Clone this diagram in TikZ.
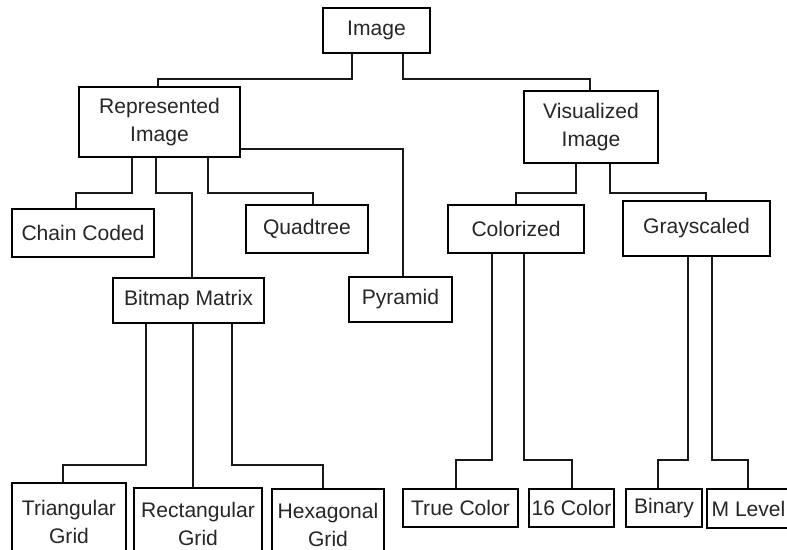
\documentclass[tikz,border=0pt]{standalone}
\usepackage{fontspec}
\setmainfont{Liberation Sans}
\begin{document}
\begin{tikzpicture}[x=0.75pt,y=-0.75pt,
  box/.style={draw=black,line width=1.2pt,fill=white,inner sep=0pt,align=center,
    font=\fontsize{15.8}{21}\selectfont,text=black!85},
  sz/.style 2 args={minimum width=#1*0.75pt,minimum height=#2*0.75pt},
  conn/.style={draw=black!90,line width=1.2pt}]
\clip (0,0) rectangle (787,549);
\fill[white] (0,0) rectangle (787,549);

\node[box,sz={107}{45}] (img) at (376.5,30.5) {Image};
\node[box,sz={161}{70}] (rep) at (159.5,122) {Represented\\Image};
\node[box,sz={134}{72}] (vis) at (591,127) {Visualized\\Image};
\node[box,sz={142}{48}] (chain) at (83,233) {Chain Coded};
\node[box,sz={122}{48}] (quad) at (307,229) {Quadtree};
\node[box,sz={151}{45}] (bit) at (188.5,300.5) {Bitmap Matrix};
\node[box,sz={103}{45}] (pyr) at (400.5,299.5) {Pyramid};
\node[box,sz={136}{48}] (col) at (516,229) {Colorized};
\node[box,sz={147}{55}] (gray) at (696.5,228.5) {Grayscaled};
\node[box,sz={114}{77}] (tri) at (69,521.5) {Triangular\\Grid};
\node[box,sz={128}{72}] (rect) at (198,524) {Rectangular\\Grid};
\node[box,sz={112}{71}] (hex) at (328,524.5) {Hexagonal\\Grid};
\node[box,sz={115}{38}] (tc) at (460.5,508) {True Color};
\node[box,sz={85}{38}] (c16) at (571.5,508) {16 Color};
\node[box,sz={76}{38}] (bin) at (664,508) {Binary};
\node[box,sz={83}{39}] (mlev) at (748.5,508.5) {M Level};

\draw[conn] (img.south -| 352,0) |- (158,79) -- (rep.north -| 158,0);
\draw[conn] (img.south -| 403,0) |- (590,79) -- (vis.north -| 590,0);
\draw[conn] (rep.south -| 132,0) |- (76,193) -- (chain.north -| 76,0);
\draw[conn] (rep.south -| 156,0) |- (192,193) -- (bit.north -| 192,0);
\draw[conn] (rep.south -| 208,0) |- (313,193) -- (quad.north -| 313,0);
\draw[conn] (rep.east |- 0,149) -| (pyr.north -| 403,0);
\draw[conn] (vis.south -| 576,0) |- (516,193) -- (col.north -| 516,0);
\draw[conn] (vis.south -| 610,0) |- (706,193) -- (gray.north -| 706,0);
\draw[conn] (col.south -| 492,0) |- (456,460) -- (tc.north -| 456,0);
\draw[conn] (col.south -| 524,0) |- (572,460) -- (c16.north -| 572,0);
\draw[conn] (gray.south -| 688,0) |- (658,460) -- (bin.north -| 658,0);
\draw[conn] (gray.south -| 712,0) |- (748,460) -- (mlev.north -| 748,0);
\draw[conn] (bit.south -| 146,0) |- (63,465) -- (tri.north -| 63,0);
\draw[conn] (bit.south -| 193,0) -- (rect.north -| 193,0);
\draw[conn] (bit.south -| 232,0) |- (323,465) -- (hex.north -| 323,0);
\end{tikzpicture}
\end{document}
